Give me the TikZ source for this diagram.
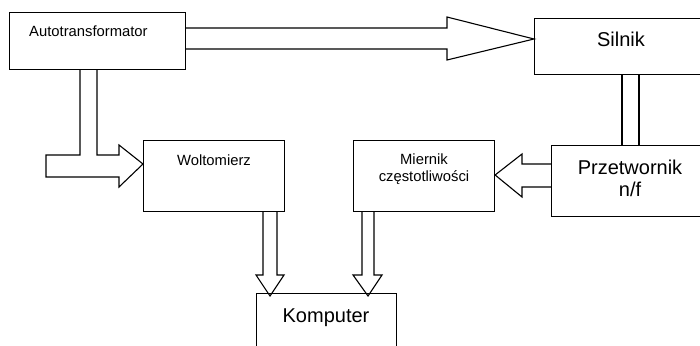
\documentclass[tikz,border=0pt]{standalone}
\usepackage{fontspec}
\setmainfont{Liberation Sans}

\tikzset{
  blok/.style={draw, line width=1.1pt, anchor=north west, inner sep=0pt},
  strz/.style={draw, line width=1.1pt, line join=miter},
  maly/.style={font=\fontsize{14.8}{16.5}\selectfont, inner sep=0pt, align=center},
  duzy/.style={font=\fontsize{20}{22}\selectfont, inner sep=0pt, align=center},
}

\begin{document}
\begin{tikzpicture}[x=1pt,y=-1pt]
			\useasboundingbox (0,0) rectangle (700,345);
			\clip (0,0) rectangle (700,345);
			%%%%%%%%%%%%%%%%%%%%%%%%%%%%%%%%
			\node[blok, minimum width=176pt, minimum height=57pt] (auto) at (9,12) {};
			\node[blok, minimum width=174pt, minimum height=56pt] (silnik) at (534,18) {};
			\node[blok, minimum width=158pt, minimum height=71pt] (przet) at (551,145) {};
			\node[blok, minimum width=141pt, minimum height=71pt] (miernik) at (353,140) {};
			\node[blok, minimum width=141pt, minimum height=71pt] (wolt) at (143,140) {};
			\node[blok, minimum width=140pt, minimum height=80pt] (komp) at (256,293) {};
			%%%%%%%%%%%%%%%%%%%%%%%%%%%%%%%%
			\node[maly, anchor=base west] (autotxt) at (29,37) {Autotransformator};
			\node[duzy, anchor=base] (silniktxt) at (621,47) {Silnik};
			\node[duzy, anchor=base] (przettxt) at (630,196) {Przetwornik\\n/f};
			\node[maly, anchor=base] (miernktxt) at (424,181) {Miernik\\częstotliwości};
			\node[maly, anchor=base] (wolttxt) at (214,165) {Woltomierz};
			\node[duzy, anchor=base] (komptxt) at (326,322) {Komputer};
			%%%%%%%%%%%%%%%%%%%%%%%%%%%%%%%%
			\draw[strz] (auto.east |- 0,28) -- (447,28) -- (447,17) -- (silnik.west |- 0,39)
				-- (447,60) -- (447,49) -- (auto.east |- 0,49);
			\draw[strz] (80,0 |- auto.south) -- (80,155) -- (46,155) -- (46,177) -- (119,177)
				-- (119,187) -- (wolt.west |- 0,164) -- (119,145) -- (119,155) -- (97,155)
				-- (97,0 |- auto.south);
			\draw[strz] (622,0 |- silnik.south) -- (622,0 |- przet.north);
			\draw[strz] (639,0 |- silnik.south) -- (639,0 |- przet.north);
			\draw[strz] (przet.west |- 0,164) -- (522,164) -- (522,154) -- (miernik.east |- 0,175)
				-- (522,197) -- (522,187) -- (przet.west |- 0,187);
			\draw[strz] (263,0 |- wolt.south) -- (263,275) -- (256,275) -- (270,296)
				-- (284,275) -- (277,275) -- (277,0 |- wolt.south);
			\draw[strz] (362,0 |- miernik.south) -- (362,275) -- (353,275) -- (368,296)
				-- (382,275) -- (374,275) -- (374,0 |- miernik.south);
		\end{tikzpicture}
\end{document}
